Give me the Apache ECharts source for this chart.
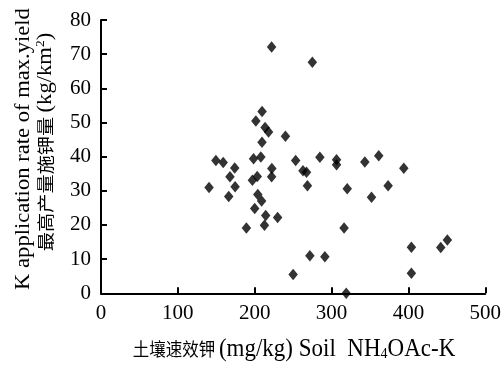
<!DOCTYPE html>
<html>
<head>
<meta charset="utf-8">
<script src="https://cdn.jsdelivr.net/npm/echarts@6/dist/echarts.min.js"></script>
<style>html,body{margin:0;padding:0;background:#fff;}#c{width:504px;height:365px;}</style>
</head>
<body>
<div id="c"></div>
<script>
var soilK = [222, 275, 209.6, 201.5, 213.5, 218, 209.5, 240, 149.5, 159, 198.5, 208, 174, 222.3, 167.8, 222, 197, 203.3, 174.5, 140.6, 166.2, 204, 209, 200, 214.3, 229.8, 212.7, 189.2, 250, 253.3, 284.8, 306.5, 306.5, 343.3, 361.4, 394, 262.8, 267.4, 268.6, 320.4, 352, 373.6, 316.3, 271.8, 291.3, 319.1, 403.9, 403.9, 442.1, 450.7];
var kRate = [72.1, 67.6, 53.2, 50.4, 48.5, 47.2, 44.2, 46.0, 38.9, 38.3, 39.4, 39.9, 36.7, 36.5, 34.1, 34.1, 33.1, 34.2, 31.2, 31.0, 28.3, 28.9, 27.0, 24.8, 22.8, 22.2, 19.9, 19.1, 5.5, 38.9, 39.8, 39.1, 37.6, 38.4, 40.3, 36.6, 35.9, 35.4, 31.5, 30.6, 28.1, 31.5, 19.1, 11.0, 10.7, 0, 13.5, 5.9, 13.4, 15.6];
var xTicks = [0, 100, 200, 300, 400, 500];
var yTicks = [0, 10, 20, 30, 40, 50, 60, 70, 80];

var serif = "'Liberation Serif', 'Times New Roman', serif";
var cjk = "'Noto Sans CJK SC', sans-serif";
var pts = soilK.map(function (x, i) { return [x, kRate[i]]; });

var chart = echarts.init(document.getElementById('c'));
chart.setOption({
  animation: false,
  backgroundColor: '#fff',
  grid: { left: 101, right: 18.5, top: 20, bottom: 71.7, containLabel: false },
  xAxis: {
    type: 'value', min: xTicks[0], max: xTicks[xTicks.length - 1], interval: 100,
    axisLine: { lineStyle: { color: '#000', width: 2 } },
    axisTick: { inside: true, length: 6, lineStyle: { color: '#000', width: 2 } },
    axisLabel: { color: '#000', fontFamily: serif, fontSize: 21, margin: 10 },
    splitLine: { show: false }
  },
  yAxis: {
    type: 'value', min: yTicks[0], max: yTicks[yTicks.length - 1], interval: 10,
    axisLine: { show: true, lineStyle: { color: '#000', width: 2 } },
    axisTick: { show: true, inside: true, length: 6, lineStyle: { color: '#000', width: 2 } },
    axisLabel: { color: '#000', fontFamily: serif, fontSize: 21, margin: 10 },
    splitLine: { show: false }
  },
  graphic: [
    {
      type: 'text', x: 294, y: 349, scaleY: 1.1,
      style: {
        text: '{c|土壤速效钾 }{l|(mg/kg) Soil  NH}{s|4}{l|OAc-K}',
        align: 'center', verticalAlign: 'middle', fill: '#000',
        rich: {
          c: { fontFamily: cjk, fontSize: 16.5, fill: '#000' },
          l: { fontFamily: serif, fontSize: 23, fill: '#000' },
          s: { fontFamily: serif, fontSize: 14, fill: '#000', verticalAlign: 'bottom', padding: [6, 0, 0, 0] }
        }
      }
    },
    {
      type: 'text', x: 24, y: 149, rotation: Math.PI / 2, scaleX: 1.13,
      style: {
        text: 'K application rate of max.yield',
        align: 'center', verticalAlign: 'middle', fill: '#000',
        fontFamily: serif, fontSize: 20
      }
    },
    {
      type: 'text', x: 46, y: 142, rotation: Math.PI / 2, scaleX: 1.13,
      style: {
        text: '{c|最高产量施钾量 }{l|(kg/km}{p|2}{l|)}',
        align: 'center', verticalAlign: 'middle', fill: '#000',
        rich: {
          c: { fontFamily: cjk, fontSize: 17, fill: '#000', lineHeight: 22 },
          l: { fontFamily: serif, fontSize: 20, fill: '#000', lineHeight: 22 },
          p: { fontFamily: serif, fontSize: 12, fill: '#000', verticalAlign: 'top', lineHeight: 22 }
        }
      }
    }
  ],
  series: [{
    type: 'scatter',
    data: pts,
    symbol: 'diamond',
    symbolSize: [9.5, 11.5],
    itemStyle: { color: '#000' }
  }]
});
</script>
</body>
</html>
